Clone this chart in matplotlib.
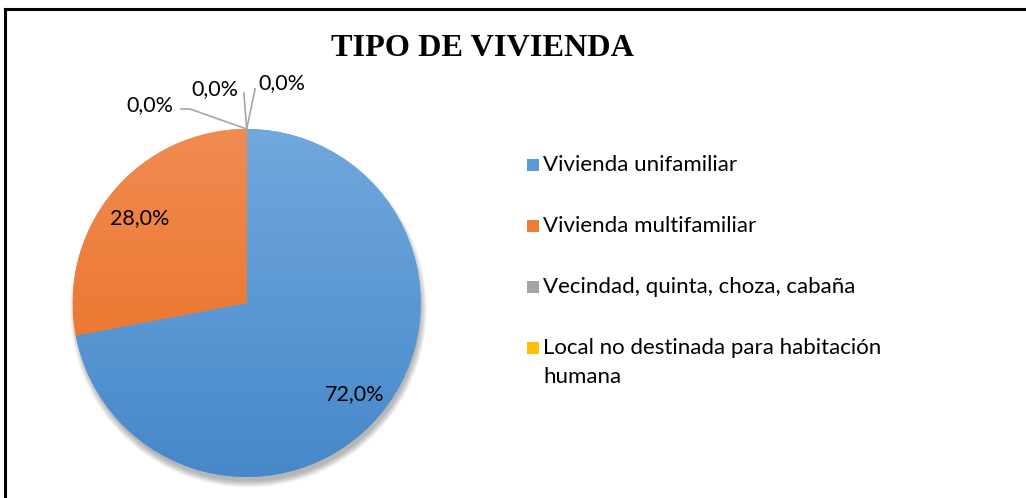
import numpy as np
import matplotlib
matplotlib.use("Agg")
import matplotlib.pyplot as plt
from matplotlib.patches import Circle, Rectangle
from matplotlib.lines import Line2D
from matplotlib.colors import LinearSegmentedColormap

# data
categories = ["Vivienda unifamiliar", "Vivienda multifamiliar",
              "Vecindad, quinta, choza, cabaña",
              "Local no destinada para habitación\nhumana"]
values = [72.0, 28.0, 0.0, 0.0]
pct_labels = ["72,0%", "28,0%", "0,0%", "0,0%"]
colors = ["#5B9BD5", "#ED7D31", "#A5A5A5", "#FFC000"]
grad_top = ["#71A8DD", "#F18B52", "#B5B5B5", "#FFCA2A"]
grad_bot = ["#4688CA", "#E86C1C", "#969696", "#F0B400"]

plt.rcParams["font.family"] = ["Lato", "DejaVu Sans"]

W, H = 1026, 498
fig = plt.figure(figsize=(W / 100, H / 100), dpi=100)

# frame (only top and left visible in the reference)
fig.add_artist(Line2D([5/W, 5/W], [0, 1 - 9/H], color="black", lw=2.2,
                      transform=fig.transFigure))
fig.add_artist(Line2D([5/W, 1.0], [1 - 9/H, 1 - 9/H], color="black", lw=2.2,
                      transform=fig.transFigure))

R = 174.0
cx, cy = 246.7, 303.0
lim = 1.3
w = 2 * lim * R
ax = fig.add_axes([(cx - w/2)/W, ((H - cy) - w/2)/H, w/W, w/H])
ax.set_aspect("equal")
ax.axis("off")

# soft shadow, mostly below the pie
for i in range(10):
    ax.add_patch(Circle((0.01, -0.035), 0.985 + 0.004 * (10 - i), color="black",
                        alpha=0.03, lw=0, zorder=0))

wedges, _ = ax.pie(values, colors=colors, startangle=90, counterclock=False,
                   radius=1.0, wedgeprops=dict(linewidth=0))

grad = np.linspace(0, 1, 256).reshape(-1, 1)
for wdg, c0, c1 in zip(wedges, grad_top, grad_bot):
    cmap = LinearSegmentedColormap.from_list("g", [c0, c1])
    im = ax.imshow(grad, cmap=cmap, extent=[-1, 1, -1, 1], origin="upper",
                   aspect="auto", zorder=2)
    im.set_clip_path(wdg)
ax.set_xlim(-lim, lim)
ax.set_ylim(-lim, lim)

fs = 15.5
ax.text(0.622, -0.523, pct_labels[0], ha="center", va="center", fontsize=fs, zorder=5)
ax.text(-0.613, 0.489, pct_labels[1], ha="center", va="center", fontsize=fs, zorder=5)

# zero-value labels with leader lines
lc = "#A6A6A6"
ax.plot([0, -0.326, -0.377], [1.0, 1.115, 1.115], color=lc, lw=1.2, zorder=4)
ax.text(-0.556, 1.138, pct_labels[2], ha="center", va="center", fontsize=fs)
ax.plot([0, -0.016], [1.0, 1.207], color=lc, lw=1.2, zorder=4)
ax.text(-0.182, 1.23, pct_labels[3], ha="center", va="center", fontsize=fs)
ax.plot([0, 0.048], [1.0, 1.23], color=lc, lw=1.2, zorder=4)
ax.text(0.203, 1.264, "0,0%", ha="center", va="center", fontsize=fs)

fig.text(482.5/W, 1 - 49/H, "TIPO DE VIVIENDA", ha="center", va="center",
         fontsize=23.2, fontweight="bold", family="Liberation Serif")

# legend, drawn entry by entry
lfs = 16
for i, (lab, c) in enumerate(zip(categories, colors)):
    yc = 165 + 61 * i
    fig.add_artist(Rectangle((527/W, 1 - (yc + 6)/H), 12/W, 12/H,
                             facecolor=c, lw=0, transform=fig.transFigure))
    for k, line in enumerate(lab.split("\n")):
        fig.text(543/W, 1 - (yc + 29 * k)/H, line, ha="left", va="center",
                 fontsize=lfs)

fig.savefig("out.png", dpi=100)
